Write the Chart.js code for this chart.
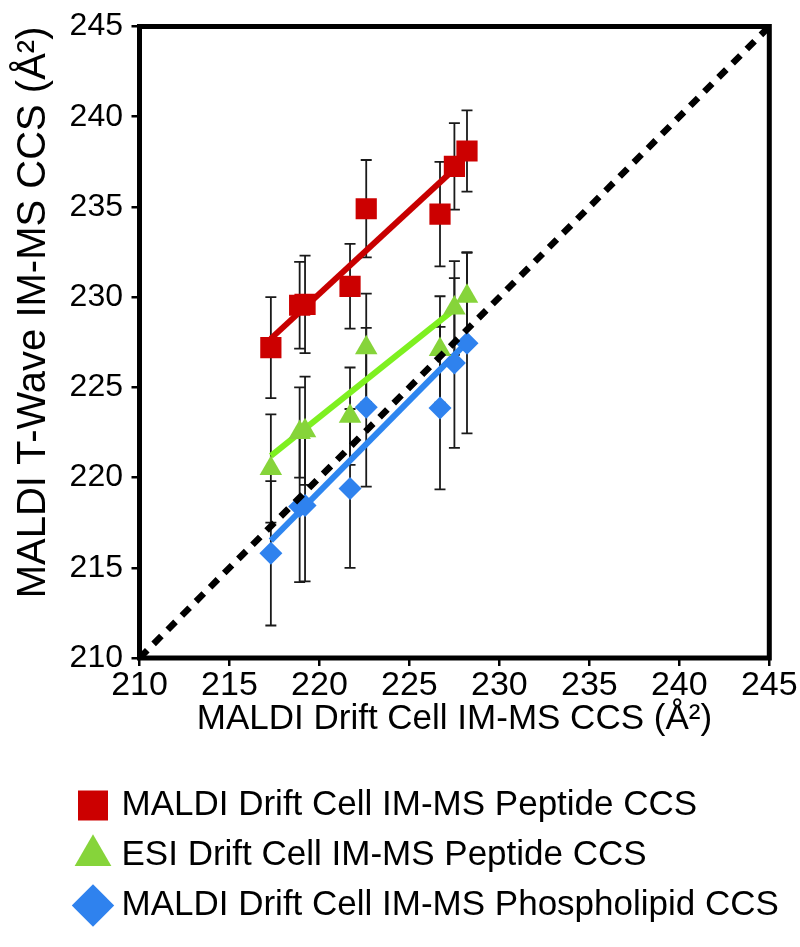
<!DOCTYPE html>
<html>
<head>
<meta charset="utf-8">
<script src="https://cdn.jsdelivr.net/npm/chart.js@4.4.1/dist/chart.umd.min.js"></script>
<style>
  body { margin: 0; background: #fff; }
  #wrap { width: 800px; height: 947px; }
</style>
</head>
<body>
<div id="wrap"><canvas id="ccsChart"></canvas></div>
<script>
// Drift cell CCS (x) shared by the three series
const driftCCS = [217.3, 218.9, 219.2, 221.7, 222.6, 226.7, 227.5, 228.2];

// T-Wave CCS (y) and error bars per series
const maldiPeptide = [227.2, 229.55, 229.6, 230.6, 234.9, 234.6, 237.25, 238.1];
const maldiPeptideErr = [2.8, 2.4, 2.7, 2.35, 2.7, 2.9, 2.4, 2.25];
const esiPeptide = [220.5, 222.5, 222.6, 223.4, 227.2, 227.1, 229.4, 230.05];
const esiPeptideErr = [3.0, 2.5, 3.0, 2.7, 3.0, 2.95, 2.6, 2.45];
const maldiLipid = [215.8, 218.4, 218.45, 219.4, 223.9, 223.85, 226.35, 227.45];
const maldiLipidErr = [4.0, 4.2, 4.2, 4.4, 4.4, 4.5, 4.7, 5.0];

// trend line end points
const peptideFitX = [217.3, 227.5];
const peptideFitY = [227.7, 237.1];
const esiFitX = [217.3, 227.6];
const esiFitY = [221.2, 229.4];
const lipidFitX = [217.3, 228.4];
const lipidFitY = [216.5, 227.7];

// y = x reference line and axis ticks
const identityLine = [210, 245];
const axisMin = 210;
const axisMax = 245;
const axisStep = 5;

const FONT = "'Liberation Sans', Arial, sans-serif";

function pts(xs, ys) {
    return xs.map((x, i) => ({ x: x, y: ys[i] }));
}

// vertical error bars with caps, drawn behind the markers
const errorBars = {
    id: 'errorBars',
    beforeDatasetsDraw(chart) {
        const ctx = chart.ctx;
        const xs = chart.scales.x;
        const ys = chart.scales.y;
        ctx.save();
        ctx.strokeStyle = '#1a1a1a';
        ctx.lineWidth = 1.8;
        chart.data.datasets.forEach(ds => {
            if (!ds.errors) return;
            ds.data.forEach((p, i) => {
                const px = xs.getPixelForValue(p.x);
                const top = ys.getPixelForValue(p.y + ds.errors[i]);
                const bot = ys.getPixelForValue(p.y - ds.errors[i]);
                ctx.beginPath();
                ctx.moveTo(px, top);
                ctx.lineTo(px, bot);
                ctx.moveTo(px - 5.5, top);
                ctx.lineTo(px + 5.5, top);
                ctx.moveTo(px - 5.5, bot);
                ctx.lineTo(px + 5.5, bot);
                ctx.stroke();
            });
        });
        ctx.restore();
    }
};

// heavy black box around the plot area
const frame = {
    id: 'frame',
    afterDatasetsDraw(chart) {
        const a = chart.chartArea;
        const ctx = chart.ctx;
        ctx.save();
        ctx.strokeStyle = '#000';
        ctx.lineWidth = 5;
        ctx.strokeRect(a.left, a.top, a.right - a.left, a.bottom - a.top);
        ctx.restore();
    }
};

function createChart() {
    const ctx = document.getElementById('ccsChart').getContext('2d');
    new Chart(ctx, {
        type: 'scatter',
        data: {
            datasets: [
                {
                    label: 'y = x',
                    data: pts(identityLine, identityLine),
                    showLine: true,
                    borderColor: '#000',
                    borderWidth: 6.5,
                    borderDash: [11, 9],
                    pointRadius: 0,
                    order: 0
                },
                {
                    label: 'MALDI Drift Cell IM-MS Peptide CCS',
                    data: pts(driftCCS, maldiPeptide),
                    errors: maldiPeptideErr,
                    inLegend: true,
                    pointStyle: 'rect',
                    pointRadius: 15,
                    backgroundColor: '#cc0000',
                    borderWidth: 0,
                    order: 1
                },
                {
                    label: 'ESI Drift Cell IM-MS Peptide CCS',
                    data: pts(driftCCS, esiPeptide),
                    errors: esiPeptideErr,
                    inLegend: true,
                    pointStyle: 'triangle',
                    pointRadius: 13,
                    backgroundColor: '#86d43a',
                    borderWidth: 0,
                    order: 2
                },
                {
                    label: 'MALDI Drift Cell IM-MS Phospholipid CCS',
                    data: pts(driftCCS, maldiLipid),
                    errors: maldiLipidErr,
                    inLegend: true,
                    pointStyle: 'rectRot',
                    pointRadius: 11.5,
                    backgroundColor: '#2f82ee',
                    borderWidth: 0,
                    order: 3
                },
                {
                    label: 'peptide fit',
                    data: pts(peptideFitX, peptideFitY),
                    showLine: true,
                    borderColor: '#c80000',
                    borderWidth: 6,
                    pointRadius: 0,
                    order: 4
                },
                {
                    label: 'esi fit',
                    data: pts(esiFitX, esiFitY),
                    showLine: true,
                    borderColor: '#7ef020',
                    borderWidth: 6,
                    pointRadius: 0,
                    order: 5
                },
                {
                    label: 'lipid fit',
                    data: pts(lipidFitX, lipidFitY),
                    showLine: true,
                    borderColor: '#2e86f0',
                    borderWidth: 6,
                    pointRadius: 0,
                    order: 6
                }
            ]
        },
        options: {
            responsive: true,
            maintainAspectRatio: false,
            animation: false,
            layout: {
                padding: { left: 67, right: 0, top: 26.5, bottom: 14 }
            },
            plugins: {
                tooltip: { enabled: false },
                legend: {
                    position: 'bottom',
                    align: 'start',
                    labels: {
                        usePointStyle: true,
                        boxWidth: 22,
                        boxHeight: 30,
                        padding: 15,
                        color: '#000',
                        font: { family: FONT, size: 35 },
                        filter: (item, data) => !!data.datasets[item.datasetIndex].inLegend
                    }
                }
            },
            scales: {
                x: {
                    type: 'linear',
                    min: axisMin,
                    max: axisMax,
                    ticks: {
                        stepSize: axisStep,
                        color: '#000',
                        padding: 3,
                        font: { family: FONT, size: 34, lineHeight: 1 }
                    },
                    grid: {
                        drawOnChartArea: false,
                        tickLength: 8,
                        color: '#000',
                        lineWidth: 2.5
                    },
                    border: { display: false },
                    title: {
                        display: true,
                        text: 'MALDI Drift Cell IM-MS CCS (Å²)',
                        color: '#000',
                        font: { family: FONT, size: 35, lineHeight: 1 },
                        padding: { top: 0, bottom: 36 }
                    },
                    afterFit(s) {
                        s.height = 115;
                        s.paddingLeft = 0;
                        s.paddingRight = 0;
                    }
                },
                y: {
                    type: 'linear',
                    min: axisMin,
                    max: axisMax,
                    ticks: {
                        stepSize: axisStep,
                        color: '#000',
                        padding: 8.5,
                        font: { family: FONT, size: 32, lineHeight: 1 }
                    },
                    grid: {
                        drawOnChartArea: false,
                        tickLength: 8,
                        color: '#000',
                        lineWidth: 2.5
                    },
                    border: { display: false },
                    title: {
                        display: true,
                        align: 'end',
                        text: 'MALDI T-Wave IM-MS CCS (Å²)',
                        color: '#000',
                        font: { family: FONT, size: 40, lineHeight: 1 },
                        padding: { top: -53, bottom: 0 }
                    },
                    afterFit(s) {
                        s.width = 72.5;
                        s.paddingTop = 0;
                        s.paddingBottom = 0;
                    }
                },
                // empty spacer on the right so the legend can use the full width
                yRight: {
                    type: 'linear',
                    position: 'right',
                    min: axisMin,
                    max: axisMax,
                    ticks: { display: false },
                    grid: { display: false },
                    border: { display: false },
                    afterFit(s) {
                        s.width = 30.7;
                        s.paddingTop = 0;
                        s.paddingBottom = 0;
                    }
                }
            }
        },
        plugins: [errorBars, frame]
    });
}

window.onload = function () {
    createChart();
};
</script>
</body>
</html>
